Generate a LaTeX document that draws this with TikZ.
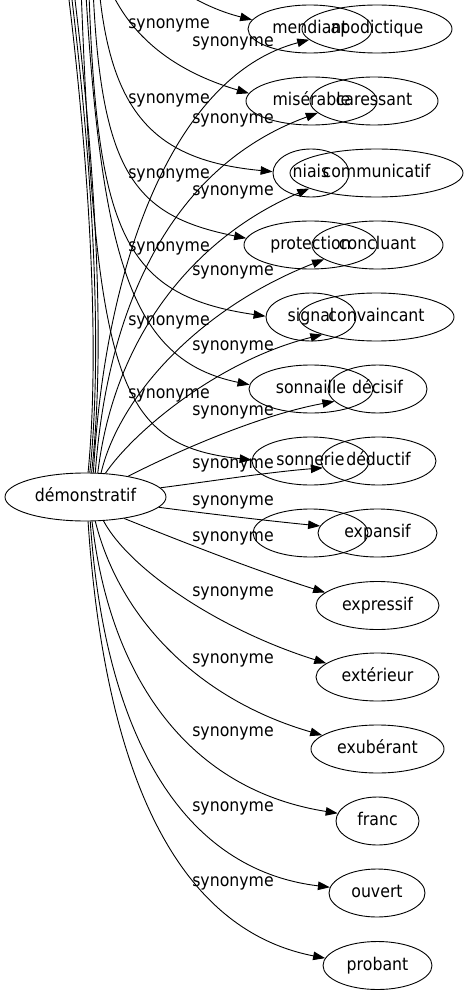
\documentclass[tikz,border=0pt]{standalone}
\usepackage{fontspec}
\setmainfont{DejaVu Sans}[FakeStretch=0.9]
\usetikzlibrary{arrows.meta, shapes.geometric}

\begin{document}
\begin{tikzpicture}[
        x=1pt, y=-1pt, line width=0.9pt,
        word/.style={draw, ellipse, inner sep=0pt, minimum height=48pt, minimum width=#1,
            text height=13pt, text depth=4pt, font=\fontsize{17.5}{20}\selectfont},
        syn/.style={inner sep=0pt, font=\fontsize{17.5}{20}\selectfont},
        arrow/.style={-{Triangle[length=12pt, width=8.5pt]}}
    ]
        \useasboundingbox (0,0) rectangle (469,995);
        \clip (0,0) rectangle (469,995);

        % Source
        \node[word=161] (dem) at (85.5,497) {démonstratif};

        % Left column
        \node[word=124] (mendiant) at (310,29) {mendiant};
        \node[word=131] (miserable) at (311.5,101) {misérable};
        \node[word=76] (niais) at (311,173) {niais};
        \node[word=133] (protection) at (310.5,245) {protection};
        \node[word=90] (signal) at (311,317) {signal};
        \node[word=124] (sonnaille) at (311,389) {sonnaille};
        \node[word=117] (sonnerie) at (310.5,461) {sonnerie};
        \node[word=115] (blank) at (310.5,533) {};

        % Right column
        \node[word=150] (apod) at (377,29) {apodictique};
        \node[word=128] (caress) at (374,101) {caressant};
        \node[word=173] (comm) at (376.5,173) {communicatif};
        \node[word=131] (concl) at (377.5,245) {concluant};
        \node[word=155] (convainc) at (376.5,317) {convaincant};
        \node[word=99] (decisif) at (377.5,389) {décisif};
        \node[word=115] (deductif) at (378.5,461) {déductif};
        \node[word=119] (expansif) at (377.5,533) {expansif};
        \node[word=123] (expressif) at (377.5,605.5) {expressif};
        \node[word=123] (exterieur) at (377.5,677) {extérieur};
        \node[word=133] (exuberant) at (377.5,749) {exubérant};
        \node[word=83] (franc) at (377.5,821) {franc};
        \node[word=96] (ouvert) at (377,893) {ouvert};
        \node[word=109] (probant) at (377.5,965.5) {probant};

        % Free ends above the top
        \coordinate (up1) at (64,-40);
        \coordinate (up2) at (67,-40);
        \coordinate (up3) at (70,-40);
        \coordinate (src1) at (150,-40);
        \coordinate (src2) at (100,-40);
        \coordinate (src3) at (97,-40);
        \coordinate (src4) at (92,-40);
        \coordinate (src5) at (88,-40);
        \coordinate (src6) at (84,-40);
        \coordinate (src7) at (80,-40);

        % Edges going off the top
        \draw (dem.84) .. controls (102,330) and (85,120) .. (up1);
        \draw (dem.80) .. controls (105,330) and (88,120) .. (up2);
        \draw (dem.76) .. controls (108,330) and (91,120) .. (up3);

        % Edges into the left column
        \draw[arrow] (src1) .. controls (165,-15) and (205,8) .. (mendiant.171);
        \draw[arrow] (src2) .. controls (118,30) and (170,70) .. (miserable.173);
        \draw[arrow] (src3) .. controls (105,110) and (150,160) .. (niais.178);
        \draw[arrow] (src4) .. controls (98,170) and (130,215) .. (protection.174);
        \draw[arrow] (src5) .. controls (95,230) and (120,295) .. (signal.179);
        \draw[arrow] (src6) .. controls (100,260) and (130,360) .. (sonnaille.176);
        \draw[arrow] (src7) .. controls (95,380) and (115,445) .. (sonnerie.179);

        % Edges into the right column
        \draw[arrow] (dem.72) .. controls (105,260) and (175,75) .. (apod.189);
        \draw[arrow] (dem.68) .. controls (108,300) and (175,165) .. (caress.192);
        \draw[arrow] (dem.63) .. controls (115,330) and (200,235) .. (comm.193);
        \draw[arrow] (dem.57) .. controls (118,400) and (195,310) .. (concl.195);
        \draw[arrow] (dem.50) .. controls (135,430) and (220,360) .. (convainc.198);
        \draw[arrow] (dem.26) .. controls (180,450) and (260,415) .. (decisif.196);
        \draw[arrow] (dem.7) .. controls (220,480) and (270,472) .. (deductif.187);
        \draw[arrow] (dem.352) .. controls (210,514) and (270,521) .. (expansif.173);
        \draw[arrow] (dem.331) .. controls (190,545) and (260,572) .. (expressif.166);
        \draw[arrow] (dem.307) .. controls (130,570) and (220,630) .. (exterieur.165);
        \draw[arrow] (dem.292) .. controls (120,620) and (200,700) .. (exuberant.166);
        \draw[arrow] (dem.285) .. controls (110,680) and (190,790) .. (franc.169);
        \draw[arrow] (dem.281) .. controls (105,740) and (185,870) .. (ouvert.173);
        \draw[arrow] (dem.276) .. controls (105,780) and (180,930) .. (probant.172);

        % Edge labels, left
        \node[syn] (ls1) at (169,25) {synonyme};
        \node[syn] (ls2) at (169,100) {synonyme};
        \node[syn] (ls3) at (169,175) {synonyme};
        \node[syn] (ls4) at (169,248) {synonyme};
        \node[syn] (ls5) at (169,322) {synonyme};
        \node[syn] (ls6) at (169,395) {synonyme};

        % Edge labels, right
        \node[syn] (lr1) at (233,43) {synonyme};
        \node[syn] (lr2) at (233,120) {synonyme};
        \node[syn] (lr3) at (233,192) {synonyme};
        \node[syn] (lr4) at (233,272) {synonyme};
        \node[syn] (lr5) at (233,347) {synonyme};
        \node[syn] (lr6) at (233,412) {synonyme};
        \node[syn] (lr7) at (233,465) {synonyme};
        \node[syn] (lr8) at (233,502) {synonyme};
        \node[syn] (lr9) at (233,538) {synonyme};
        \node[syn] (lr10) at (233,593) {synonyme};
        \node[syn] (lr11) at (233,660) {synonyme};
        \node[syn] (lr12) at (233,733) {synonyme};
        \node[syn] (lr13) at (233,808) {synonyme};
        \node[syn] (lr14) at (233,883) {synonyme};
    \end{tikzpicture}
\end{document}
